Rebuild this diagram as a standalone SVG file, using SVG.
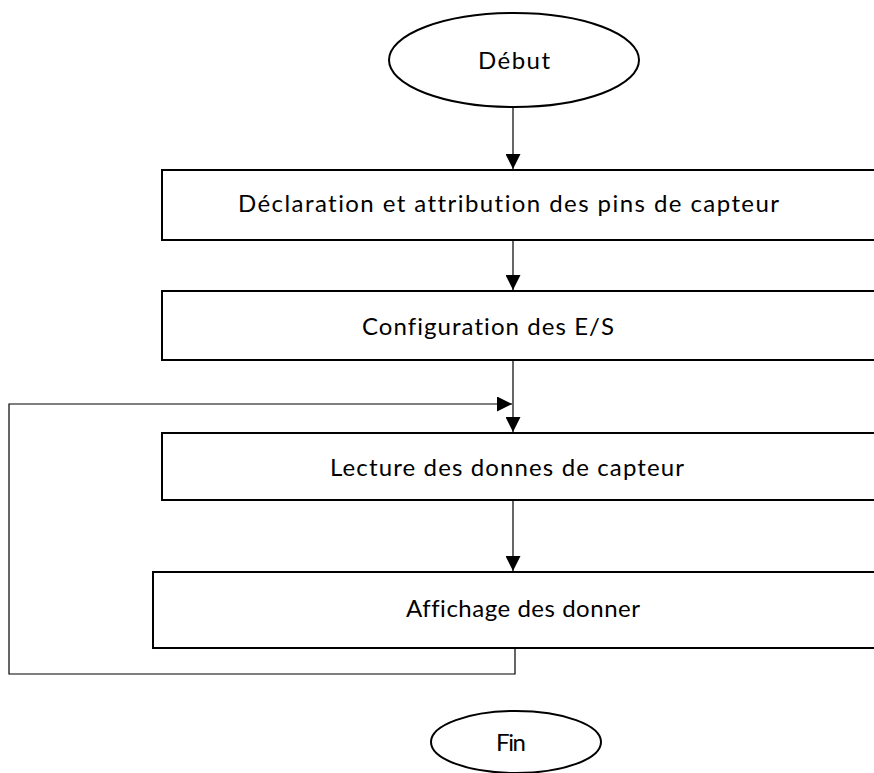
<svg xmlns="http://www.w3.org/2000/svg" width="874" height="773" viewBox="0 0 874 773">
  <defs>
    <marker id="arrow" viewBox="0 0 15 15" refX="15" refY="7.5" markerWidth="15" markerHeight="15" markerUnits="userSpaceOnUse" orient="auto">
      <path d="M0,0 L15,7.5 L0,15 Z" fill="#000"/>
    </marker>
    <style>
      .box { fill: #fff; stroke: #000; stroke-width: 2; }
      .term { fill: #fff; stroke: #000; stroke-width: 2; }
      .lbl { font-family: Lato, "Open Sans", "Liberation Sans", sans-serif; font-size: 24px; fill: #000;
             font-variant-ligatures: none; font-feature-settings: "liga" 0, "clig" 0, "dlig" 0; }
      .wire { fill: none; stroke: #000; stroke-width: 1.2; }
    </style>
  </defs>
  <rect width="874" height="773" fill="#fff"/>

  <g id="debut">
    <ellipse class="term" cx="514" cy="60" rx="125" ry="47"/>
    <text class="lbl" x="478" y="69" textLength="72">Début</text>
  </g>

  <g id="declaration">
    <rect class="box" x="162" y="170" width="730" height="70"/>
    <text class="lbl" x="238" y="212" textLength="541">Déclaration et attribution des pins de capteur</text>
  </g>

  <g id="configuration">
    <rect class="box" x="162" y="291" width="730" height="69"/>
    <text class="lbl" x="362" y="335" textLength="252">Configuration des E/S</text>
  </g>

  <g id="lecture">
    <rect class="box" x="162" y="433" width="730" height="67"/>
    <text class="lbl" x="330" y="476" textLength="354">Lecture des donnes de capteur</text>
  </g>

  <g id="affichage">
    <rect class="box" x="153" y="572" width="740" height="76"/>
    <text class="lbl" x="406" y="617" textLength="234">Affichage des donner</text>
  </g>

  <g id="fin">
    <ellipse class="term" cx="516" cy="742" rx="85" ry="31"/>
    <text class="lbl" x="496" y="751" textLength="30">Fin</text>
  </g>

  <g id="connectors">
    <line class="wire" x1="513" y1="108" x2="513" y2="169" marker-end="url(#arrow)"/>
    <line class="wire" x1="513" y1="240" x2="513" y2="290" marker-end="url(#arrow)"/>
    <line class="wire" x1="513" y1="360" x2="513" y2="432" marker-end="url(#arrow)"/>
    <line class="wire" x1="513" y1="500" x2="513" y2="571" marker-end="url(#arrow)"/>
    <polyline class="wire" points="515,648 515,674 9,674 9,404 512,404" marker-end="url(#arrow)"/>
  </g>
</svg>
